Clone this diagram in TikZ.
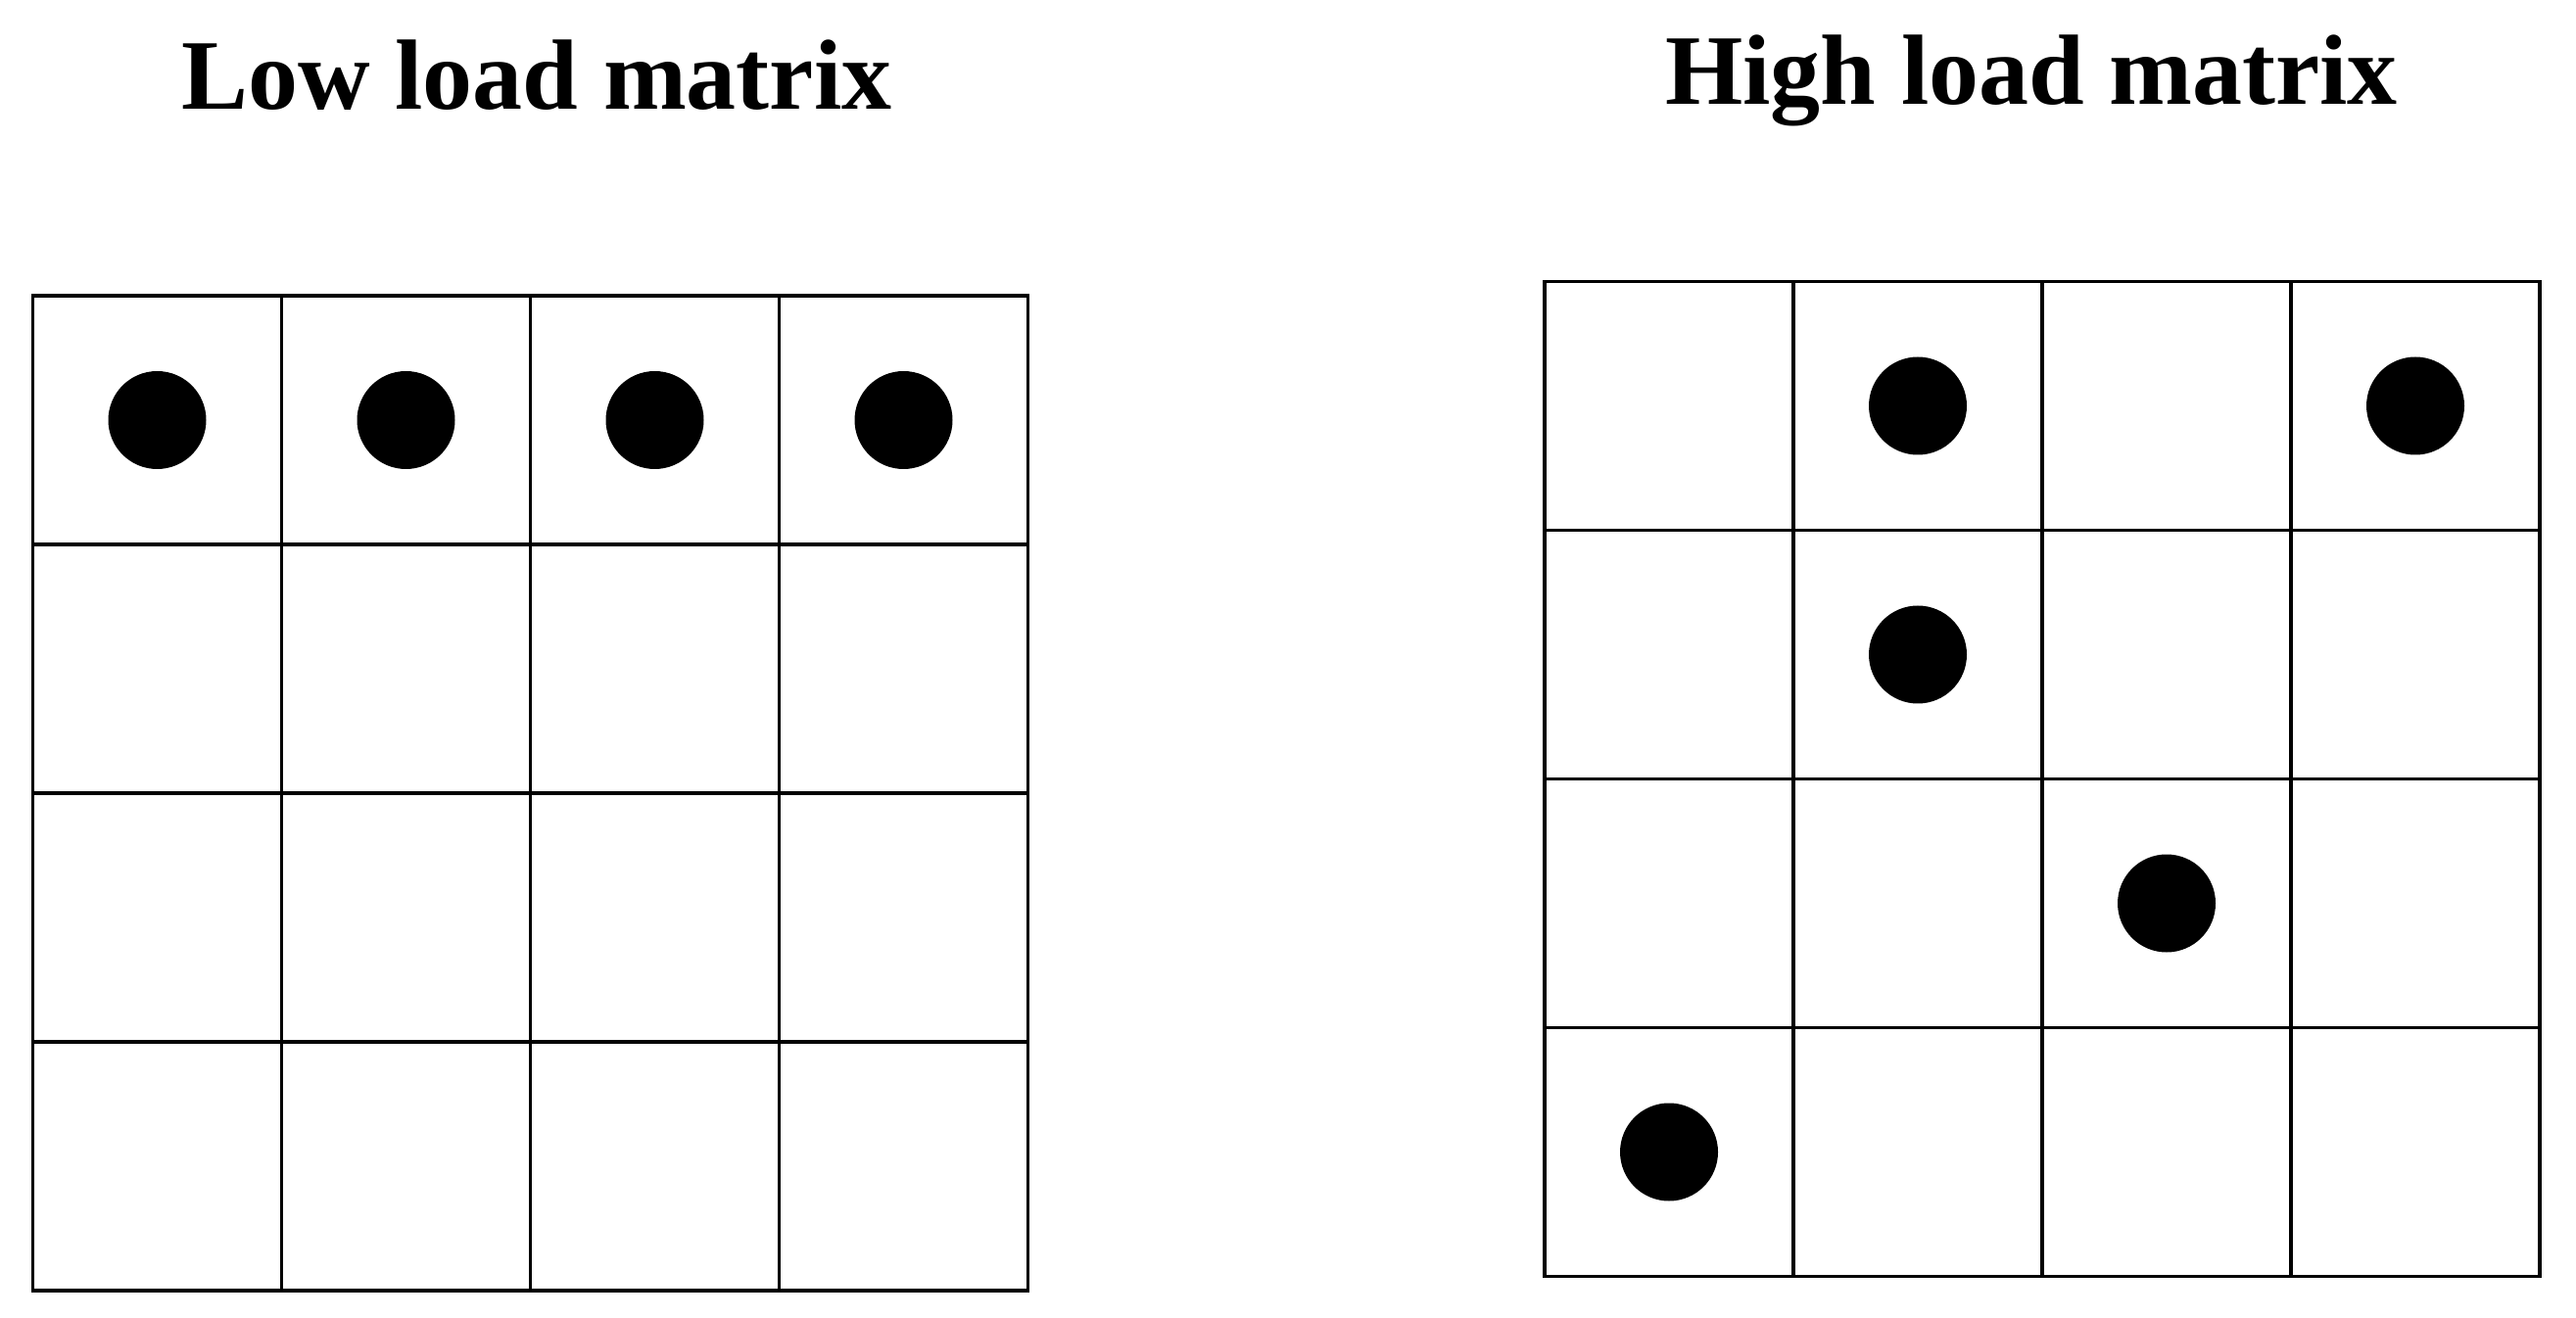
\documentclass[tikz,border=0pt]{standalone}
\usepackage{fontspec}
\setmainfont{Liberation Serif}
\begin{document}
\begin{tikzpicture}[cell/.style={draw, line width=0.9pt, minimum size=2.54cm, inner sep=0pt},
		dot/.style={circle, fill=black, minimum size=1cm, inner sep=0pt},
		title/.style={anchor=base, font=\bfseries\fontsize{29}{35}\selectfont}]
		\useasboundingbox (0,0) rectangle (26.3,-13.46);
		% titles
		\node[title] (lowtitle) at (5.48,-1.12) {Low load matrix};
		\node[title] (hightitle) at (20.74,-1.07) {High load matrix};
		% the two grids
		\foreach \r in {1,...,4}
			\foreach \c in {1,...,4} {
				\node[cell] (L-\r-\c) at ({1.605+2.54*(\c-1)},{-4.29-2.54*(\r-1)}) {};
				\node[cell] (H-\r-\c) at ({17.04+2.54*(\c-1)},{-4.145-2.54*(\r-1)}) {};
			}
		% loads
		\foreach \c in {1,...,4}
			\node[dot] (lowdot-\c) at (L-1-\c) {};
		\node[dot] (highdot-1) at (H-1-2) {};
		\node[dot] (highdot-2) at (H-1-4) {};
		\node[dot] (highdot-3) at (H-2-2) {};
		\node[dot] (highdot-4) at (H-3-3) {};
		\node[dot] (highdot-5) at (H-4-1) {};
	\end{tikzpicture}
\end{document}
